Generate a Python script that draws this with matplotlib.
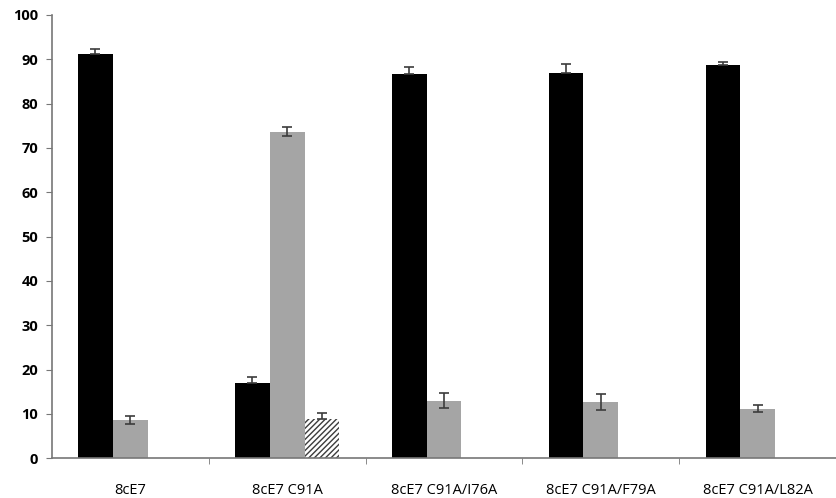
import numpy as np
import matplotlib
matplotlib.use("Agg")
import matplotlib.pyplot as plt

# values
categories = ["8cE7", "8cE7 C91A", "8cE7 C91A/I76A", "8cE7 C91A/F79A", "8cE7 C91A/L82A"]
black_vals = [91.2, 16.9, 86.7, 87.0, 88.6]
black_err = [1.2, 1.5, 1.6, 2.0, 0.8]
gray_vals = [8.6, 73.7, 13.0, 12.7, 11.2]
gray_err = [1.0, 1.0, 1.7, 1.8, 0.7]
hatch_vals = [0, 8.9, 0, 0, 0]
hatch_err = [0, 1.2, 0, 0, 0]

plt.rcParams["font.family"] = ["Open Sans", "DejaVu Sans"]
plt.rcParams["hatch.linewidth"] = 1.0

fig = plt.figure(figsize=(8.37, 4.98), dpi=100)
ax = fig.add_axes([0.062, 0.080, 0.937, 0.890])

x = np.arange(len(categories))
w = 0.222
ekw = dict(elinewidth=1.2, capsize=3.5, capthick=1.2, ecolor="#3c3c3c")

# lower half of the error bar is hidden inside dark / hatched bars
zeros = np.zeros(len(categories))
ax.bar(x - w, black_vals, w, color="black",
       yerr=[zeros, black_err], error_kw=ekw, zorder=2)
ax.bar(x, gray_vals, w, color="#a5a5a5", yerr=gray_err, error_kw=ekw, zorder=2)
mask = np.array(hatch_vals) > 0
hv = np.array(hatch_vals)[mask]
he = np.array(hatch_err)[mask]
ax.bar(x[mask] + w, hv, w, color="white", edgecolor="#3c3c3c",
       hatch="//////", linewidth=0, yerr=[np.zeros_like(he), he], error_kw=ekw, zorder=2)

ax.set_xlim(-0.5, len(categories) - 0.5)
ax.set_ylim(0, 100)
ax.set_yticks(np.arange(0, 101, 10))
ax.set_xticks(x)
ax.set_xticklabels(categories, fontsize=10.5)
ax.set_xticks(np.arange(0.5, len(categories) - 0.5, 1), minor=True)
ax.tick_params(axis="x", which="major", length=0, pad=18)
ax.tick_params(axis="x", which="minor", length=4, color="#777777", direction="out")
ax.tick_params(axis="y", length=4, color="#777777", pad=6, labelsize=10.5)
for lab in ax.get_yticklabels():
    lab.set_fontweight("bold")

for s in ("top", "right"):
    ax.spines[s].set_visible(False)
for s in ("left", "bottom"):
    ax.spines[s].set_color("#777777")
    ax.spines[s].set_linewidth(1.2)
ax.spines["bottom"].set_zorder(3)

fig.savefig("out.png", dpi=100)
